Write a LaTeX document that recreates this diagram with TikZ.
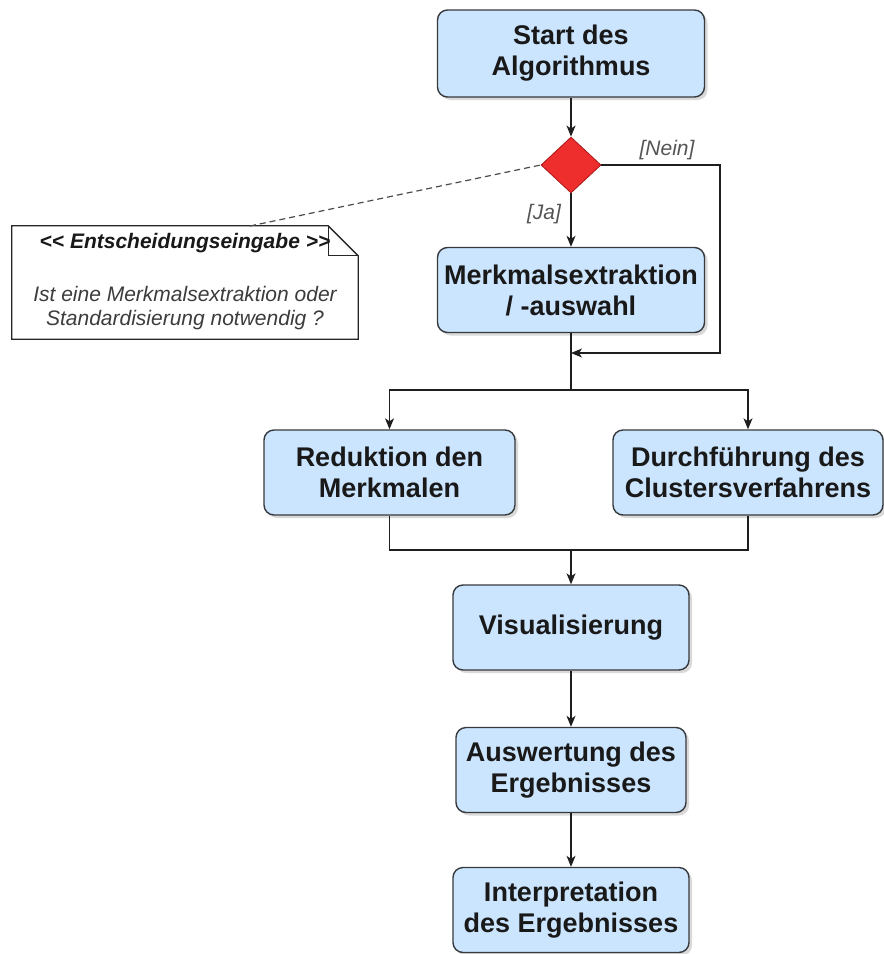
\documentclass[tikz,border=0pt]{standalone}
\usepackage{fontspec}
\setmainfont{Liberation Sans}
\usetikzlibrary{arrows.meta,shapes.geometric,shadows}

\definecolor{boxfill}{RGB}{204,229,255}
\definecolor{boxline}{RGB}{54,57,61}
\definecolor{decred}{RGB}{238,45,45}
\definecolor{decline}{RGB}{170,25,25}
\definecolor{labelgray}{RGB}{85,85,85}
\definecolor{notegray}{RGB}{60,60,60}
\definecolor{wire}{RGB}{30,30,30}

\begin{document}
\begin{tikzpicture}[x=1pt,y=-1pt,
  stepbox/.style={draw=boxline, line width=1.4pt, fill=boxfill,
    rounded corners=10pt, align=center, inner sep=0pt, text=black!90,
    font=\fontsize{27}{31}\selectfont\bfseries,
    drop shadow={shadow xshift=3pt, shadow yshift=-3pt, opacity=0.3}},
  decision/.style={diamond, draw=decline, line width=0.8pt, fill=decred,
    inner sep=0pt, minimum width=60pt, minimum height=56pt},
  flow/.style={draw=wire, line width=1.3pt,
    -{Stealth[length=11pt,width=9pt,inset=3pt]}},
  link/.style={draw=wire, line width=1.3pt},
  notelink/.style={draw=black!70, line width=1.2pt, dash pattern=on 6pt off 4pt},
  notebox/.style={draw=black!85, line width=1.3pt, fill=white},
  lbl/.style={text=labelgray, font=\fontsize{21}{24}\selectfont\itshape},
  notetitle/.style={text=black!90, font=\fontsize{21}{24}\selectfont\bfseries\itshape},
  notetext/.style={text=notegray, align=center, font=\fontsize{21}{24}\selectfont\itshape}
]
\useasboundingbox (0,0) rectangle (884,954);

% main flow boxes
\node[stepbox, minimum width=267pt, minimum height=87pt] (start) at (571,53.5) {Start des\\Algorithmus};
\node[decision] (dec) at (571,165) {};
\node[stepbox, minimum width=267pt, minimum height=85pt] (merk) at (571,290) {Merkmalsextraktion\\/ -auswahl};
\node[stepbox, minimum width=251pt, minimum height=85pt] (red) at (389.5,472.5) {Reduktion den\\Merkmalen};
\node[stepbox, minimum width=270pt, minimum height=85pt] (durch) at (748,472.5) {Durchführung des\\Clustersverfahrens};
\node[stepbox, minimum width=236pt, minimum height=85pt] (vis) at (571,627.5) {Visualisierung};
\node[stepbox, minimum width=230pt, minimum height=85pt] (ausw) at (571,770) {Auswertung des\\Ergebnisses};
\node[stepbox, minimum width=236pt, minimum height=85pt] (interp) at (571,910) {Interpretation\\des Ergebnisses};

% decision input note
\node[minimum width=346pt, minimum height=113pt, inner sep=0pt] (note) at (185,282.5) {};
\draw[notebox] (note.north west) -- ([xshift=-30pt]note.north east)
  -- ([yshift=-30pt]note.north east) -- (note.south east) -- (note.south west) -- cycle;
\draw[notebox, fill=none] ([xshift=-30pt]note.north east)
  -- ([xshift=-30pt,yshift=-30pt]note.north east) -- ([yshift=-30pt]note.north east);
\node[notetitle] (ntitle) at (185,243) {<\kern0pt< Entscheidungseingabe >\kern0pt>};
\node[notetext] (nbody) at (185,308) {Ist eine Merkmalsextraktion oder\\Standardisierung notwendig ?};
\coordinate (notetip) at (250,226);
\draw[notelink] (notetip) -- (dec.west);

% connectors
\coordinate (neinc) at (720,353);
\coordinate (join) at (571,353);
\coordinate (split) at (571,390);
\coordinate (merge) at (571,550);

\draw[flow] (start) -- (dec);
\draw[flow] (dec) -- (merk);
\draw[flow] (dec.east) -| (neinc) -- (join);
\draw[link] (merk) -- (split);
\draw[flow] (split) -| (red);
\draw[flow] (split) -| (durch);
\draw[link] (red) |- (merge);
\draw[link] (durch) |- (merge);
\draw[flow] (merge) -- (vis);
\draw[flow] (vis) -- (ausw);
\draw[flow] (ausw) -- (interp);

% branch labels
\node[lbl] (ja) at (544,214) {[Ja]};
\node[lbl] (nein) at (667,150) {[Nein]};
\end{tikzpicture}
\end{document}
